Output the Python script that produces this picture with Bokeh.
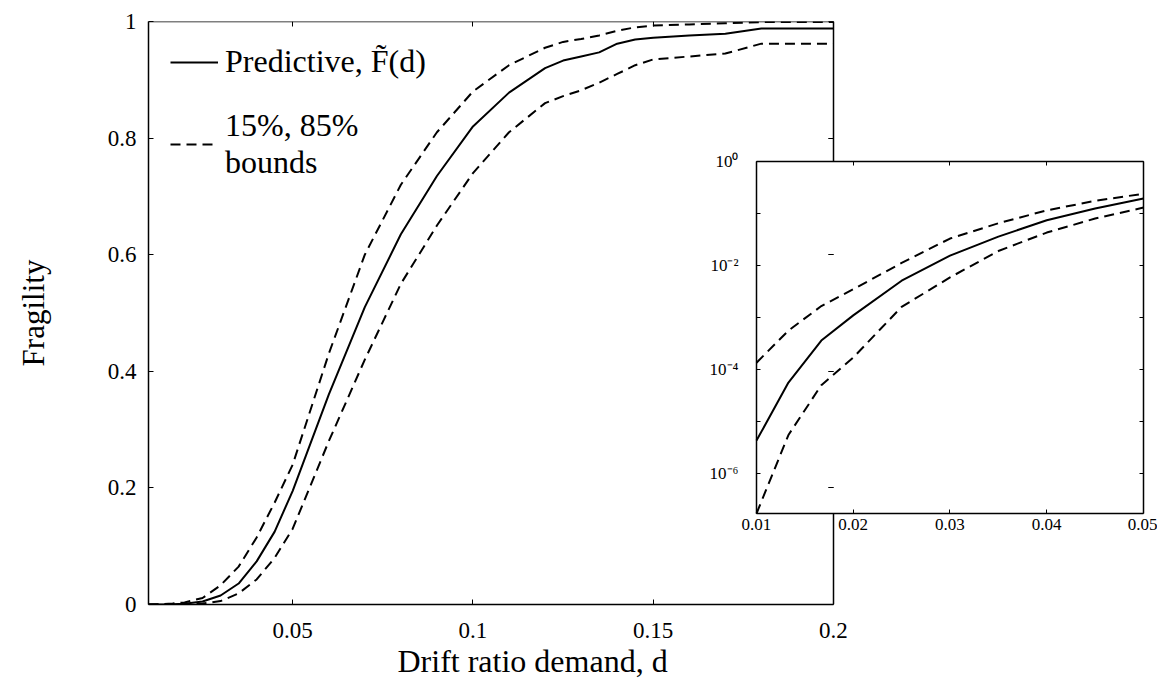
from bokeh.plotting import figure
from bokeh.models import (Range1d, LinearAxis, LogAxis, LogScale, FixedTicker,
                          Legend, LegendItem, Title)
from bokeh.embed import file_html
from bokeh.resources import INLINE

# ---------------- data ----------------
drift = [0.01, 0.0133, 0.0167, 0.02, 0.025, 0.03, 0.035, 0.04, 0.045, 0.05,
         0.06, 0.07, 0.08, 0.09, 0.10, 0.11, 0.12, 0.125, 0.13, 0.135,
         0.14, 0.145, 0.15, 0.16, 0.17, 0.18, 0.19, 0.20]
predictive = [4.3e-6, 5.6e-5, 3.6e-4, 1.1e-3, 5.1e-3, 0.0155, 0.036, 0.074, 0.125, 0.195,
              0.36, 0.51, 0.635, 0.735, 0.82, 0.878, 0.92, 0.933, 0.94, 0.947,
              0.962, 0.969, 0.972, 0.976, 0.979, 0.988, 0.988, 0.988]
bound_85 = [1.35e-4, 5.6e-4, 1.66e-3, 3.5e-3, 0.0112, 0.033, 0.065, 0.115, 0.175, 0.24,
            0.43, 0.60, 0.72, 0.81, 0.88, 0.925, 0.955, 0.965, 0.97, 0.976,
            0.984, 0.99, 0.993, 0.995, 0.997, 0.999, 0.999, 0.999]
bound_15 = [1.7e-7, 5.5e-6, 5.0e-5, 1.7e-4, 1.6e-3, 5.9e-3, 0.019, 0.043, 0.08, 0.13,
            0.28, 0.42, 0.55, 0.65, 0.74, 0.81, 0.86, 0.872, 0.882, 0.895,
            0.91, 0.925, 0.935, 0.94, 0.945, 0.962, 0.962, 0.962]
inset_n = 10  # points with drift <= 0.05 shown in the inset

x_ticks = [0.05, 0.1, 0.15, 0.2]
x_tick_labels = ["0.05", "0.1", "0.15", "0.2"]
y_ticks = [0, 0.2, 0.4, 0.6, 0.8, 1]
y_tick_labels = ["0", "0.2", "0.4", "0.6", "0.8", "1"]
ix_ticks = [0.01, 0.02, 0.03, 0.04, 0.05]
ix_tick_labels = ["0.01", "0.02", "0.03", "0.04", "0.05"]
iy_ticks = [1, 1e-1, 1e-2, 1e-3, 1e-4, 1e-5, 1e-6]
iy_tick_labels = ["10\u2070", "", "10\u207b\u00b2", "", "10\u207b\u2074", "", "10\u207b\u2076"]

legend_labels = ["Predictive, F\u0303(d)", "15%, 85%\nbounds"]
x_title = "Drift ratio demand, d"
y_title = "Fragility"

# ---------------- layout constants ----------------
FONT = "Liberation Serif"
X_MAIN = (0.01, 0.28987)           # main x range over whole frame
IX = (-0.052842, 0.051447)         # inset x range over whole frame
IY = (10 ** -8.519, 10 ** 2.6923)  # inset log y range over whole frame
IY_BOTTOM = 10 ** -6.77
F_INSET_BOTTOM = 0.156
F_INSET_TOP = 0.76

p = figure(width=1157, height=685, output_backend="svg", toolbar_location=None,
           x_range=Range1d(*X_MAIN), y_range=Range1d(0, 1),
           x_axis_type=None, y_axis_type=None,
           min_border_left=148, min_border_right=0, min_border_top=21, min_border_bottom=81)
p.outline_line_color = None
p.background_fill_color = "white"
p.border_fill_color = "white"
p.extra_x_ranges = {"ix": Range1d(*IX)}
p.extra_y_ranges = {"iy": Range1d(*IY)}
p.extra_y_scales = {"iy": LogScale()}


def style(ax, size="23px", tick=5):
    ax.axis_line_color = "black"
    ax.axis_line_width = 1.5
    ax.major_tick_in = tick
    ax.major_tick_out = 0
    ax.minor_tick_in = 0
    ax.minor_tick_out = 0
    ax.major_tick_line_color = "black"
    ax.major_tick_line_width = 1
    ax.major_label_text_font = FONT
    ax.major_label_text_font_size = size
    ax.major_label_text_color = "black"
    ax.axis_label_text_font = FONT
    ax.axis_label_text_font_style = "normal"
    ax.axis_label_text_color = "black"


# main left axis
ly = LinearAxis(ticker=FixedTicker(ticks=y_ticks), bounds=(0, 1),
                major_label_overrides=dict(zip(y_ticks, y_tick_labels)),
                axis_label=y_title, major_label_standoff=12, axis_label_standoff=54)
style(ly)
ly.axis_label_text_font_size = "31px"
p.add_layout(ly, "left")

# main bottom axis
bx = LinearAxis(ticker=FixedTicker(ticks=x_ticks), bounds=(0.01, 0.2),
                major_label_overrides=dict(zip(x_ticks, x_tick_labels)),
                major_label_standoff=18)
style(bx)
p.add_layout(bx, "below")

# x-axis title, placed under the main (left) panel
p.add_layout(Title(text=x_title, align="left", offset=249, standoff=0,
                   text_font=FONT, text_font_size="32px", text_font_style="normal",
                   text_color="black"), "below")

# main top border
tx = LinearAxis(ticker=FixedTicker(ticks=x_ticks), bounds=(0.01, 0.2), fixed_location=1,
                major_label_overrides={t: "" for t in x_ticks})
style(tx)
p.add_layout(tx, "above")

# main right border (hidden behind the inset between its bottom and top)
for b in [(0, F_INSET_BOTTOM), (F_INSET_TOP, 1)]:
    ry = LinearAxis(ticker=FixedTicker(ticks=y_ticks), bounds=b, fixed_location=0.2,
                    major_label_overrides={t: "" for t in y_ticks})
    style(ry)
    p.add_layout(ry, "right")

# ---- inset axes ----
iyl = LogAxis(ticker=FixedTicker(ticks=iy_ticks), bounds=(IY_BOTTOM, 1),
              x_range_name="ix", y_range_name="iy", fixed_location=0.01,
              major_label_overrides=dict(zip(iy_ticks, iy_tick_labels)),
              major_label_standoff=18)
style(iyl, "17px", 4)
p.add_layout(iyl, "left")

iyr = LogAxis(ticker=FixedTicker(ticks=iy_ticks), bounds=(IY_BOTTOM, 1),
              x_range_name="ix", y_range_name="iy", fixed_location=0.05,
              major_label_overrides={t: "" for t in iy_ticks})
style(iyr, "17px", 4)
p.add_layout(iyr, "right")

ixb = LinearAxis(ticker=FixedTicker(ticks=ix_ticks), bounds=(0.01, 0.05),
                 x_range_name="ix", y_range_name="iy", fixed_location=IY_BOTTOM,
                 major_label_overrides=dict(zip(ix_ticks, ix_tick_labels)),
                 major_label_standoff=5)
style(ixb, "17px", 4)
p.add_layout(ixb, "below")

ixt = LinearAxis(ticker=FixedTicker(ticks=ix_ticks), bounds=(0.01, 0.05),
                 x_range_name="ix", y_range_name="iy", fixed_location=1,
                 major_label_overrides={t: "" for t in ix_ticks})
style(ixt, "17px", 4)
p.add_layout(ixt, "above")

# ---- main curves ----
DASH = "10 6"
r_pred = p.line(drift, predictive, line_color="black", line_width=2)
r_85 = p.line(drift, bound_85, line_color="black", line_width=2, line_dash=DASH)
r_15 = p.line(drift, bound_15, line_color="black", line_width=2, line_dash=DASH)

# ---- inset curves ----
p.line(drift[:inset_n], predictive[:inset_n], line_color="black", line_width=2,
       x_range_name="ix", y_range_name="iy")
p.line(drift[:inset_n], bound_85[:inset_n], line_color="black", line_width=2, line_dash=DASH,
       x_range_name="ix", y_range_name="iy")
p.line(drift[:inset_n], bound_15[:inset_n], line_color="black", line_width=2, line_dash=DASH,
       x_range_name="ix", y_range_name="iy")

legend = Legend(items=[LegendItem(label=legend_labels[0], renderers=[r_pred]),
                       LegendItem(label=legend_labels[1], renderers=[r_85])],
                location="top_left", margin=22, padding=0, spacing=27,
                glyph_width=48, glyph_height=20, label_height=20, label_standoff=7,
                label_text_font=FONT, label_text_font_size="32px",
                label_text_line_height=1.06, label_text_color="black",
                border_line_alpha=0, background_fill_alpha=0)
p.add_layout(legend)

open("out.html", "w").write(file_html(p, INLINE))
